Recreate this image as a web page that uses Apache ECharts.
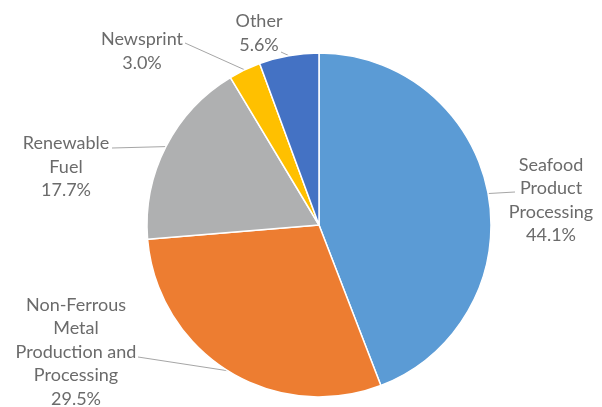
<!DOCTYPE html>
<html>
<head>
<meta charset="utf-8">
<script src="https://cdn.jsdelivr.net/npm/echarts@6/dist/echarts.min.js"></script>
<style>
  html, body { margin: 0; padding: 0; background: #ffffff; }
  #chart { width: 602px; height: 407px; }
</style>
</head>
<body>
<div id="chart"></div>
<script>
// Share of each sector, clockwise from 12 o'clock
const categories = [
  'Seafood\nProduct\nProcessing',
  'Non-Ferrous\nMetal\nProduction and\nProcessing',
  'Renewable\nFuel',
  'Newsprint',
  'Other'
];
const shares = [44.1, 29.5, 17.7, 3.0, 5.6];
const colors = ['#5B9BD5', '#ED7D31', '#AFB0B1', '#FFC000', '#4472C4'];

// Where each label block sits and where its leader line meets it
const labelSpots = [
  { x: 551, y: 200, joinX: 515, joinY: 192 },
  { x: 76,  y: 352, joinX: 138, joinY: 357 },
  { x: 66,  y: 167, joinX: 112, joinY: 148 },
  { x: 142, y: 51,  joinX: 185, joinY: 43 },
  { x: 259, y: 33,  joinX: 281, joinY: 52 }
];

const chart = echarts.init(document.getElementById('chart'), null, { renderer: 'canvas' });

const data = categories.map((name, i) => ({
  name: name,
  value: shares[i],
  itemStyle: { color: colors[i] }
}));

chart.setOption({
  animation: false,
  backgroundColor: '#ffffff',
  series: [{
    type: 'pie',
    center: [319, 225],
    radius: 172,
    startAngle: 90,
    clockwise: true,
    data: data,
    itemStyle: { borderColor: '#ffffff', borderWidth: 1.5 },
    label: {
      show: true,
      position: 'outside',
      overflow: 'none',
      edgeDistance: 0,
      formatter: p => p.name + '\n' + p.value.toFixed(1) + '%',
      fontFamily: 'Lato, "Open Sans", sans-serif',
      fontSize: 18,
      lineHeight: 23.5,
      color: '#6B6B6B',
      align: 'center'
    },
    labelLine: {
      show: true,
      length: 10,
      length2: 10,
      lineStyle: { color: '#A6A6A6', width: 1 }
    },
    labelLayout: function (params) {
      const s = labelSpots[params.dataIndex];
      const edge = params.labelLinePoints ? params.labelLinePoints[0] : [s.joinX, s.joinY];
      return {
        x: s.x,
        y: s.y,
        align: 'center',
        verticalAlign: 'middle',
        labelLinePoints: [edge, [s.joinX, s.joinY], [s.joinX, s.joinY]]
      };
    }
  }]
});
</script>
</body>
</html>
